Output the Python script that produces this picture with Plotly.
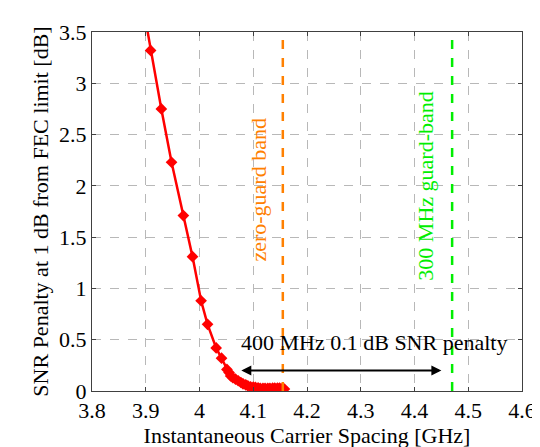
import plotly.graph_objects as go

# Data
spacing_ghz = [3.890, 3.909, 3.929, 3.948, 3.970, 3.987, 4.003, 4.015, 4.031, 4.041,
               4.051, 4.055, 4.058, 4.062, 4.067, 4.072, 4.077, 4.081, 4.086, 4.090,
               4.095, 4.100, 4.104, 4.109, 4.113, 4.118, 4.122, 4.127, 4.131, 4.136,
               4.140, 4.145, 4.149, 4.154, 4.158]
snr_penalty_db = [3.90, 3.32, 2.75, 2.23, 1.71, 1.31, 0.88, 0.65, 0.42, 0.32,
                  0.21, 0.18, 0.146, 0.13, 0.115, 0.10, 0.083, 0.07, 0.06, 0.05,
                  0.041, 0.038, 0.035, 0.03, 0.026, 0.026, 0.026, 0.026, 0.026, 0.028,
                  0.029, 0.029, 0.029, 0.025, 0.019]

zero_guard_x = 4.155
guard300_x = 4.47
arrow_x = [4.075, 4.45]
arrow_y = 0.2

x_ticks = [3.8, 3.9, 4.0, 4.1, 4.2, 4.3, 4.4, 4.5, 4.6]
x_tick_labels = ["3.8", "3.9", "4", "4.1", "4.2", "4.3", "4.4", "4.5", "4.6"]
y_ticks = [0, 0.5, 1, 1.5, 2, 2.5, 3, 3.5]
y_tick_labels = ["0", "0.5", "1", "1.5", "2", "2.5", "3", "3.5"]

FONT = "Liberation Serif, Times New Roman, serif"
FS = 22

fig = go.Figure()

fig.add_trace(go.Scatter(
    x=spacing_ghz, y=snr_penalty_db, mode="lines+markers",
    line=dict(color="#ff0000", width=2.5),
    marker=dict(symbol="diamond", size=9, color="#ff0000"),
    showlegend=False, cliponaxis=True,
))

fig.add_shape(type="line", xref="x", yref="y", x0=zero_guard_x, x1=zero_guard_x, y0=0, y1=3.5,
              line=dict(color="#ff8000", width=2.5, dash="dash"))
fig.add_shape(type="line", xref="x", yref="y", x0=guard300_x, x1=guard300_x, y0=0, y1=3.5,
              line=dict(color="#00ee00", width=2.5, dash="dash"))

fig.add_annotation(x=arrow_x[1], y=arrow_y, ax=arrow_x[0], ay=arrow_y,
                   xref="x", yref="y", axref="x", ayref="y",
                   text="", showarrow=True, arrowhead=2, startarrowhead=2,
                   arrowside="end+start", arrowwidth=2, arrowcolor="black",
                   arrowsize=1, startarrowsize=1)

fig.add_annotation(x=4.324, y=0.47, xref="x", yref="y", text="400 MHz 0.1 dB SNR penalty",
                   showarrow=False, font=dict(family=FONT, size=FS, color="black"))
fig.add_annotation(x=4.11, y=1.96, xref="x", yref="y", text="zero-guard band",
                   showarrow=False, textangle=-90,
                   font=dict(family=FONT, size=FS, color="#ff8000"))
fig.add_annotation(x=4.421, y=2.0, xref="x", yref="y", text="300 MHz guard-band",
                   showarrow=False, textangle=-90,
                   font=dict(family=FONT, size=FS, color="#00ee00"))

axis_common = dict(
    showline=True, linecolor="#404040", linewidth=1, mirror="ticks",
    ticks="inside", ticklen=4, tickcolor="#404040",
    showgrid=True, gridcolor="#b8b8b8", gridwidth=1, griddash="dash",
    zeroline=False, tickfont=dict(family=FONT, size=FS, color="black"),
)

fig.update_xaxes(range=[3.8, 4.6], tickvals=x_ticks, ticktext=x_tick_labels,
                 title=dict(text="Instantaneous Carrier Spacing [GHz]",
                            font=dict(family=FONT, size=FS, color="black"), standoff=4),
                 **axis_common)
fig.update_yaxes(range=[0, 3.5], tickvals=y_ticks, ticktext=y_tick_labels,
                 title=dict(text="SNR Penalty at 1 dB from FEC limit [dB]",
                            font=dict(family=FONT, size=FS, color="black"), standoff=4),
                 **axis_common)

fig.update_layout(
    width=540, height=447,
    margin=dict(l=84, r=15, t=21, b=60),
    plot_bgcolor="white", paper_bgcolor="white",
    font=dict(family=FONT, size=FS, color="black"),
)

fig.write_html("out.html")
